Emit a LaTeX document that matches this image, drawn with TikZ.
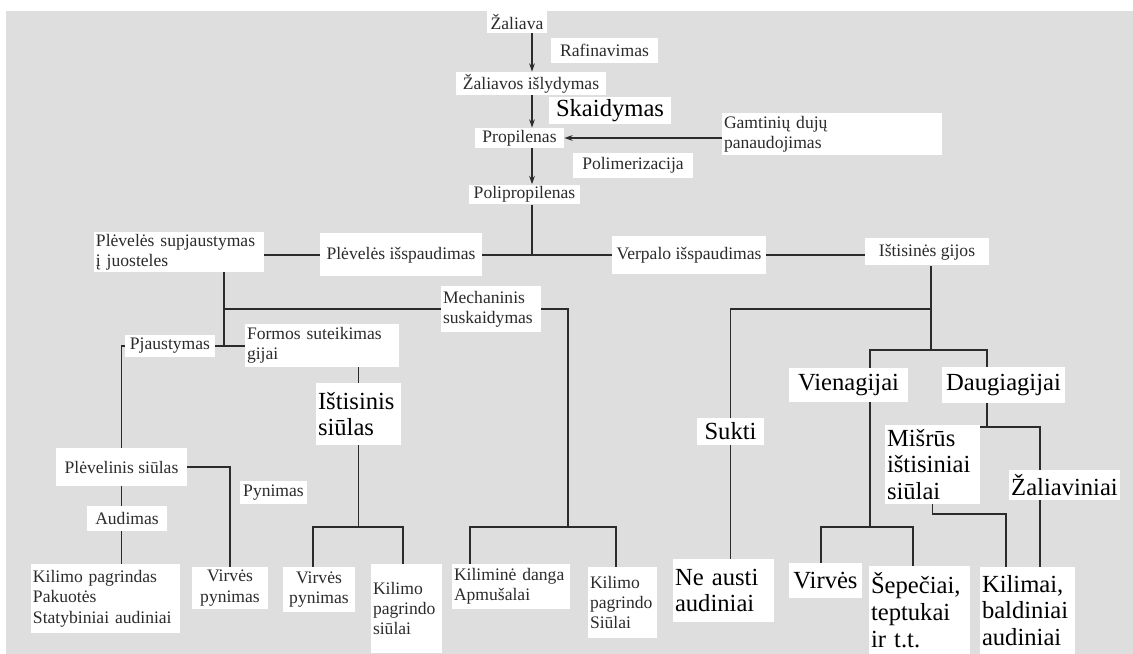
\documentclass[tikz,border=0pt]{standalone}
\usepackage{fontspec}
\setmainfont{Liberation Serif}
\usepackage{xcolor}
\usepackage{tikz}
\usetikzlibrary{arrows.meta}
\definecolor{ScanGrey}{HTML}{DEDEDE}
\definecolor{InkGrey}{HTML}{2B2B2B}
\tikzset{
  smlbox/.style={fill=white,inner sep=0.5mm,align=center,
    font=\fontsize{12.5}{14.5}\selectfont,text=InkGrey},
  bigbox/.style={fill=white,inner sep=0.5mm,align=center,
    font=\fontsize{17.5}{19}\selectfont,text=black},
  sz/.style 2 args={minimum width=#1*0.25mm,minimum height=#2*0.25mm},
  link/.style={draw=InkGrey,line width=0.9pt},
  arr/.style={link,-{Stealth[length=6pt,width=4pt]}},
}

\begin{document}
\begin{tikzpicture}[x=0.25mm,y=-0.25mm]
  \useasboundingbox (0,0) rectangle (1133,654);
  \fill[ScanGrey] (6,11) rectangle (1133,654);
  \node[smlbox,sz={60}{22}] (zal) at (517,22) {Žaliava};
  \node[smlbox,sz={107}{25}] (raf) at (604.5,50.5) {Rafinavimas};
  \node[smlbox,sz={150}{23}] (isl) at (531,83.5) {Žaliavos išlydymas};
  \node[bigbox,sz={122}{27}] (skai) at (610,110.5) {Skaidymas};
  \node[smlbox,sz={89}{20}] (prop) at (519.5,138) {Propilenas};
  \node[smlbox,align=left,text width=54mm,minimum height=10.5mm] (gamt) at (832,134) {Gamtinių dujų\\panaudojimas};
  \node[smlbox,sz={120}{25}] (pol) at (633,165.5) {Polimerizacija};
  \node[smlbox,sz={111}{19}] (polp) at (524.5,194.5) {Polipropilenas};
  \node[smlbox,align=left,text width=41.5mm,minimum height=10mm] (supj) at (179,252) {Plėvelės supjaustymas\\į juosteles};
  \node[smlbox,sz={162}{43}] (plisp) at (401,255) {Plėvelės išspaudimas};
  \node[smlbox,sz={154}{38}] (verp) at (689,255) {Verpalo išspaudimas};
  \node[smlbox,sz={124}{27}] (gijos) at (927,252) {Ištisinės gijos};
  \node[smlbox,align=left,text width=24mm,minimum height=11.5mm] (mech) at (491,309) {Mechaninis\\suskaidymas};
  \node[smlbox,sz={90}{22}] (pjau) at (170,346) {Pjaustymas};
  \node[smlbox,align=left,text width=37.5mm,minimum height=10.75mm] (form) at (322,345.5) {Formos suteikimas\\gijai};
  \node[bigbox,align=left,text width=20.25mm,minimum height=15.5mm] (ist) at (358.5,414) {Ištisinis\\siūlas};
  \node[smlbox,sz={131}{38}] (plev) at (121.5,467) {Plėvelinis siūlas};
  \node[smlbox,sz={67}{23}] (pyn) at (273.5,492.5) {Pynimas};
  \node[smlbox,sz={80}{25}] (aud) at (127,518.5) {Audimas};
  \node[smlbox,align=left,text width=36.25mm,minimum height=17.25mm] (kpag) at (105.5,598.5) {Kilimo pagrindas\\Pakuotės\\Statybiniai audiniai};
  \node[smlbox,sz={76}{42}] (virv1) at (230,588) {Virvės\\pynimas};
  \node[smlbox,sz={72}{45}] (virv2) at (319,589.5) {Virvės\\pynimas};
  \node[smlbox,align=left,text width=16.75mm,minimum height=22.25mm] (kilp1) at (406.5,608.5) {Kilimo\\pagrindo\\siūlai};
  \node[smlbox,align=left,text width=28.5mm,minimum height=11.25mm] (kild) at (511,586.5) {Kiliminė danga\\Apmušalai};
  \node[smlbox,align=left,text width=16.25mm,minimum height=17.75mm] (kilp2) at (622.5,602.5) {Kilimo\\pagrindo\\Siūlai};
  \node[bigbox,sz={67}{27}] (sukti) at (730.5,431.5) {Sukti};
  \node[bigbox,align=left,text width=24.25mm,minimum height=15.75mm] (neau) at (723.5,590.5) {Ne austi\\audiniai};
  \node[bigbox,sz={119}{34}] (vien) at (848.5,385) {Vienagijai};
  \node[bigbox,sz={123}{36}] (daug) at (1003.5,385) {Daugiagijai};
  \node[bigbox,align=left,text width=22.75mm,minimum height=19.75mm] (mis) at (932.5,464.5) {Mišrūs\\ištisiniai\\siūlai};
  \node[bigbox,sz={109}{30}] (zalv) at (1064.5,485) {Žaliaviniai};
  \node[bigbox,sz={73}{35}] (virv3) at (825.5,580.5) {Virvės};
  \node[bigbox,align=left,text width=24.25mm,minimum height=22mm] (sep) at (919.5,610) {Šepečiai,\\teptukai\\ir t.t.};
  \node[bigbox,align=left,text width=22.75mm,minimum height=21.75mm] (kil) at (1027.5,610.5) {Kilimai,\\baldiniai\\audiniai};
  \coordinate (spine) at (532,0);
  \coordinate (jA) at (224,309);
  \coordinate (jB) at (568,527);
  \coordinate (jBl) at (470,527);
  \coordinate (jBr) at (616,527);
  \coordinate (jD) at (358,527);
  \coordinate (jDl) at (313,527);
  \coordinate (jDr) at (403,527);
  \coordinate (jE) at (931,309);
  \coordinate (jF) at (931,350);
  \coordinate (jFl) at (870,350);
  \coordinate (jFr) at (987,350);
  \coordinate (jG) at (870,527);
  \coordinate (jGl) at (821,527);
  \coordinate (jGr) at (913,527);
  \coordinate (jH) at (987,427);
  \coordinate (jHr) at (1040,427);
  \coordinate (jI) at (1006,514);
  \draw[arr] (zal.south -| spine) -- (isl.north -| spine);
  \draw[arr] (isl.south -| spine) -- (prop.north -| spine);
  \draw[arr] (gamt.west |- prop.east) -- (prop.east);
  \draw[arr] (prop.south -| spine) -- (polp.north -| spine);
  \draw[link] (polp.south -| spine) -- (spine |- plisp.east);
  \draw[link] (supj.east |- plisp.west) -- (plisp.west);
  \draw[link] (plisp.east) -- (verp.west);
  \draw[link] (verp.east) -- (gijos.west |- verp.east);
  \draw[link] (supj.south -| jA) -- (jA |- pjau.east);
  \draw[link] (pjau.east) -- (form.west |- pjau.east);
  \draw[link] (jA) -- (mech.west);
  \draw[link] (mech.east) -| (jB);
  \draw[link] (kild.north -| jBl) |- (jBr) -- (kilp2.north -| jBr);
  \draw[link] (pjau.west) -| (plev.north);
  \draw[link] (plev.south) -- (plev.south |- aud.north);
  \draw[link] (aud.south -| plev.south) -- (kpag.north -| plev.south);
  \draw[link] (plev.east) -| (virv1.north);
  \draw[link] (ist.north |- form.south) -- (ist.north);
  \draw[link] (ist.south) -- (ist.south |- jD);
  \draw[link] (virv2.north -| jDl) |- (jDr) -- (kilp1.north -| jDr);
  \draw[link] (gijos.south -| jE) -- (jF);
  \draw[link] (jE) -| (sukti.north);
  \draw[link] (sukti.south) -- (sukti.south |- neau.north);
  \draw[link] (vien.north -| jFl) |- (jFr) -- (daug.north -| jFr);
  \draw[link] (vien.south -| jFl) -- (jG);
  \draw[link] (virv3.north -| jGl) |- (jGr) -- (sep.north -| jGr);
  \draw[link] (daug.south -| jH) -- (jH);
  \draw[link] (mis.east |- jH) -| (zalv.north -| jHr);
  \draw[link] (zalv.south -| jHr) -- (kil.north -| jHr);
  \draw[link] (mis.south) |- (jI) -- (kil.north -| jI);
\end{tikzpicture}
\end{document}
